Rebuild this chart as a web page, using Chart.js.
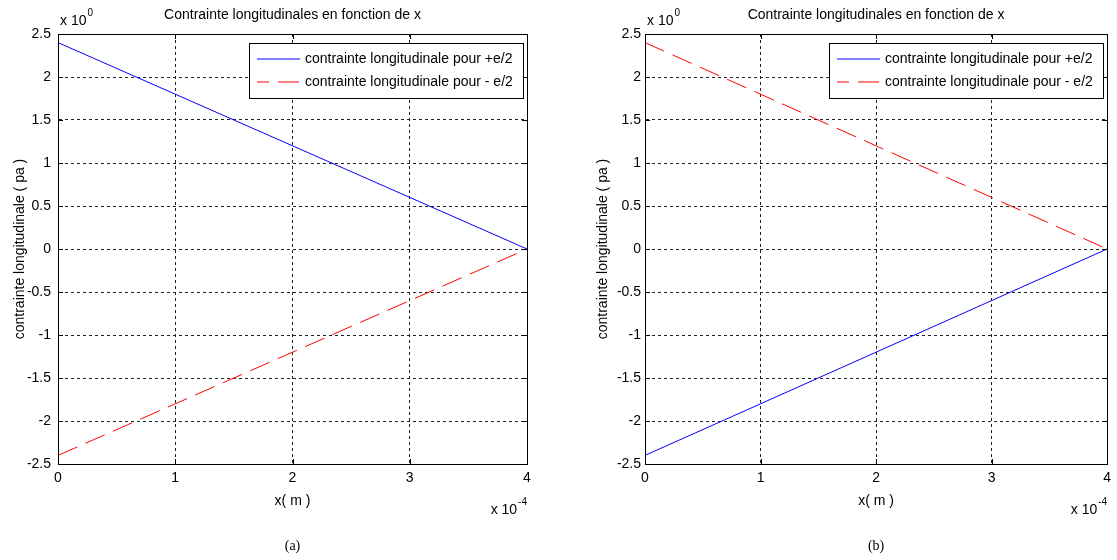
<!DOCTYPE html>
<html>
<head>
<meta charset="utf-8">
<script src="https://cdn.jsdelivr.net/npm/chart.js@4.4.1/dist/chart.umd.min.js"></script>
<style>
  html, body { margin: 0; padding: 0; background: #fff; }
  #page { position: relative; width: 1117px; height: 560px; overflow: hidden; }
  .panel { position: absolute; top: 0; height: 560px; }
  #panelA { left: 0; width: 540px; }
  #panelB { left: 587px; width: 530px; }
</style>
</head>
<body>
<div id="page">
  <div class="panel" id="panelA"><canvas id="chartA"></canvas></div>
  <div class="panel" id="panelB"><canvas id="chartB"></canvas></div>
</div>
<script>
// x in units of 1e-4 m (axis shows "x 10^-4")
const xValues = [0, 1, 2, 3, 4];
const plusA  = [2.4, 1.8, 1.2, 0.6, 0];
const minusA = [-2.4, -1.8, -1.2, -0.6, 0];
const plusB  = [-2.4, -1.8, -1.2, -0.6, 0];
const minusB = [2.4, 1.8, 1.2, 0.6, 0];

const xTicks = [0, 1, 2, 3, 4];
const yTicks = [-2.5, -2, -1.5, -1, -0.5, 0, 0.5, 1, 1.5, 2, 2.5];

const seriesLabels = ['contrainte longitudinale pour +e/2', 'contrainte longitudinale pour - e/2'];
const seriesColors = ['#0000ff', '#ff0000'];
const seriesDash = [[], [21, 9]];
const chartTitle = 'Contrainte longitudinales en fonction de x';
const xTitle = 'x( m )';
const yTitle = 'contrainte longitudinale ( pa )';

const FAMILY = '"Liberation Sans", Arial, sans-serif';
const FONT = '14px ' + FAMILY;

// matlab-like decorations: box, inner ticks, title, exponents, caption, legend
const matlabPlugin = {
    id: 'matlabBox',
    afterDraw(chart, args, opts) {
        const ctx = chart.ctx;
        const a = chart.chartArea;
        const xs = chart.scales.x, ys = chart.scales.y;
        ctx.save();
        ctx.strokeStyle = '#000';
        ctx.lineWidth = 1;
        ctx.setLineDash([]);

        // inner tick marks on all sides
        ctx.beginPath();
        xs.ticks.forEach(t => {
            const px = Math.round(xs.getPixelForValue(t.value)) + 0.5;
            ctx.moveTo(px, a.bottom); ctx.lineTo(px, a.bottom - 5);
            ctx.moveTo(px, a.top); ctx.lineTo(px, a.top + 5);
        });
        ys.ticks.forEach(t => {
            const py = Math.round(ys.getPixelForValue(t.value)) + 0.5;
            ctx.moveTo(a.left, py); ctx.lineTo(a.left + 5, py);
            ctx.moveTo(a.right, py); ctx.lineTo(a.right - 5, py);
        });
        ctx.stroke();
        ctx.strokeRect(Math.round(a.left) + 0.5, Math.round(a.top) + 0.5,
            Math.round(a.right - a.left), Math.round(a.bottom - a.top));

        ctx.fillStyle = '#000';
        ctx.font = FONT;
        ctx.textBaseline = 'middle';

        // title
        ctx.textAlign = 'center';
        ctx.fillText(chartTitle, (a.left + a.right) / 2, 15);

        // y exponent
        ctx.textAlign = 'left';
        ctx.fillText('x 10', a.left + 2, 21);
        const w10 = ctx.measureText('x 10').width;
        ctx.font = '10px ' + FAMILY;
        ctx.fillText('0', a.left + 3 + w10, 13);

        // x exponent
        ctx.textAlign = 'right';
        ctx.fillText('-4', a.right, 502);
        const wExp = ctx.measureText('-4').width;
        ctx.font = FONT;
        ctx.fillText('x 10', a.right - wExp - 1, 510);

        // caption
        ctx.textAlign = 'center';
        ctx.font = '14px "Liberation Serif", "Times New Roman", serif';
        ctx.fillText(opts.caption, (a.left + a.right) / 2, 546);

        // legend box
        ctx.font = FONT;
        const textW = Math.max(...seriesLabels.map(s => ctx.measureText(s).width));
        const w = Math.round(56 + textW + 10), h = 55;
        const right = Math.round(a.right) - 4, left = right - w, top = Math.round(a.top) + 9;
        ctx.fillStyle = '#fff';
        ctx.fillRect(left, top, w, h);
        ctx.strokeStyle = '#000';
        ctx.strokeRect(left + 0.5, top + 0.5, w, h);
        seriesLabels.forEach((label, i) => {
            const yy = top + 16 + i * 23;
            ctx.strokeStyle = seriesColors[i];
            ctx.lineWidth = 1.2;
            ctx.setLineDash(seriesDash[i]);
            ctx.lineDashOffset = seriesDash[i].length ? 9 : 0;
            ctx.beginPath();
            ctx.moveTo(left + 8, yy);
            ctx.lineTo(left + 51, yy);
            ctx.stroke();
            ctx.setLineDash([]);
            ctx.lineWidth = 1;
            ctx.fillStyle = '#000';
            ctx.textAlign = 'left';
            ctx.fillText(label, left + 56, yy);
        });
        ctx.restore();
    }
};

function makeChart(canvasId, plusData, minusData, caption, cfg) {
    const ctx = document.getElementById(canvasId);
    const series = [plusData, minusData];
    return new Chart(ctx, {
        type: 'line',
        data: {
            labels: xValues,
            datasets: series.map((vals, k) => ({
                label: seriesLabels[k],
                data: xValues.map((x, i) => ({ x: x, y: vals[i] })),
                borderColor: seriesColors[k],
                borderWidth: 1,
                borderDash: seriesDash[k],
                pointRadius: 0,
                tension: 0
            }))
        },
        options: {
            responsive: true,
            maintainAspectRatio: false,
            animation: false,
            events: [],
            devicePixelRatio: 1,
            layout: { padding: { top: 34, bottom: 50, left: 0, right: cfg.padRight } },
            plugins: {
                legend: { display: false },
                title: { display: false },
                tooltip: { enabled: false },
                matlabBox: { caption: caption }
            },
            scales: {
                x: {
                    type: 'linear',
                    min: 0,
                    max: 4,
                    afterBuildTicks: s => { s.ticks = xTicks.map(v => ({ value: v })); },
                    afterFit: s => { s.height = 46; },
                    ticks: { callback: v => String(v), color: '#000', font: { size: 14, family: FAMILY }, padding: 6 },
                    grid: { color: '#222', lineWidth: 1, drawTicks: false },
                    border: { display: true, color: '#000', dash: [3, 3] },
                    title: { display: true, text: xTitle, color: '#000', font: { size: 14, family: FAMILY }, padding: { top: 9, bottom: 0 } }
                },
                y: {
                    type: 'linear',
                    min: -2.5,
                    max: 2.5,
                    afterBuildTicks: s => { s.ticks = yTicks.map(v => ({ value: v })); },
                    afterFit: s => { s.width = 58; },
                    ticks: { callback: v => String(v), color: '#000', font: { size: 14, family: FAMILY }, padding: cfg.tickPad },
                    grid: { color: '#222', lineWidth: 1, drawTicks: false },
                    border: { display: true, color: '#000', dash: [3, 3] },
                    title: { display: true, text: yTitle, color: '#000', font: { size: 14, family: FAMILY }, padding: { top: cfg.titlePad, bottom: 0 } }
                }
            }
        },
        plugins: [matlabPlugin]
    });
}

makeChart('chartA', plusA, minusA, '(a)', { padRight: 13, tickPad: 7, titlePad: 12 });
makeChart('chartB', plusB, minusB, '(b)', { padRight: 4, tickPad: 4, titlePad: 8 });
</script>
</body>
</html>
